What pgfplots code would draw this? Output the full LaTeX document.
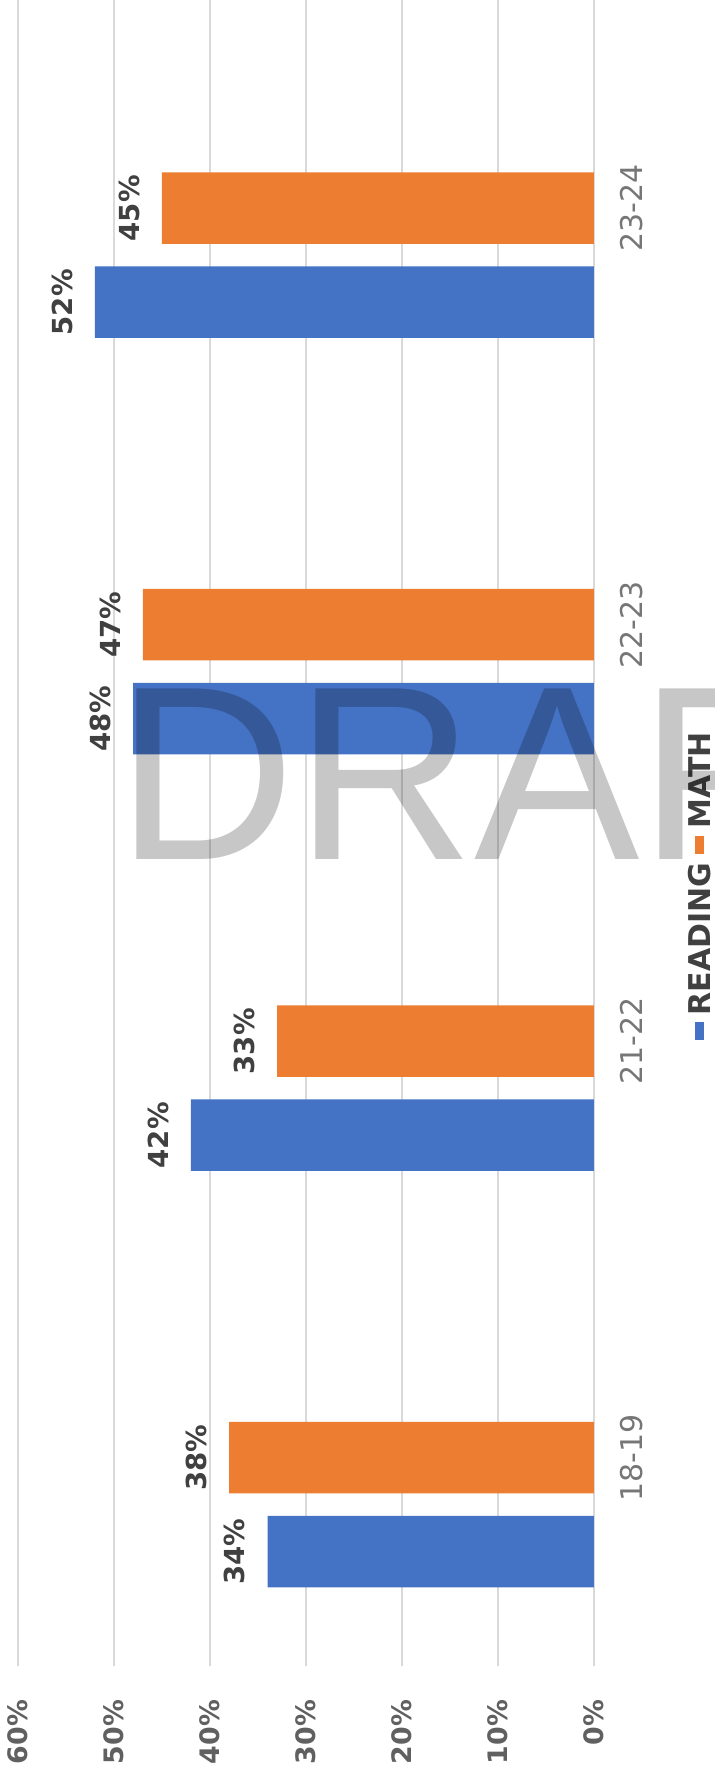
\documentclass[border=0pt]{standalone}
\usepackage{fontspec}
\setmainfont{DejaVu Sans}
\newfontfamily\draftfont{Liberation Sans}
\usepackage{pgfplots}
\pgfplotsset{compat=1.18}
\definecolor{reading}{RGB}{68,114,196}
\definecolor{math}{RGB}{237,125,49}
\definecolor{gridgray}{RGB}{217,217,217}
\definecolor{ticktext}{RGB}{96,96,96}
\definecolor{labeltext}{RGB}{64,64,64}
\definecolor{cattext}{RGB}{118,118,118}

\begin{document}
\begin{tikzpicture}
\begin{axis}[
  at={(0pt,0pt)}, anchor=south west,
  scale only axis, width=288pt, height=833pt,
  xbar, bar width=35.75pt,
  x dir=reverse,
  xmin=0, xmax=60, ymin=-0.5, ymax=3.5,
  enlargelimits=false,
  xtick={0,10,...,60},
  xticklabel={\pgfmathprintnumber{\tick}\%},
  /pgf/number format/assume math mode=true,
  xticklabel style={rotate=90, anchor=east, font=\fontsize{13.4}{16}\selectfont\bfseries, text=ticktext},
  xticklabel shift=13.5pt,
  ytick={0,1,2,3},
  yticklabels={18-19,21-22,22-23,23-24},
  yticklabel pos=right,
  yticklabel style={rotate=90, anchor=north, font=\fontsize{15}{18}\selectfont, text=cattext},
  yticklabel shift=9.5pt,
  xmajorgrids, grid style={gridgray, line width=0.8pt},
  axis line style={draw=none},
  major tick length=0pt,
  point meta=x,
  nodes near coords={\pgfmathprintnumber{\pgfplotspointmeta}\%},
  every node near coord/.append style={rotate=90, anchor=south, inner ysep=11pt,
    font=\fontsize{13.8}{16}\selectfont\bfseries, text=labeltext},
  legend columns=1,
  reverse legend,
  legend image code/.code={},
  legend style={at={(1.1858,0.468)}, anchor=center, draw=none, fill=none,
    font=\fontsize{15}{18}\selectfont\bfseries, text=labeltext,
    row sep=4.5pt, column sep=0pt,
    nodes={rotate=90, anchor=center, inner sep=0pt}},
]
% reading
\addplot[fill=reading, draw=none, bar shift=-47pt] coordinates {(34,0) (42,1) (48,2) (52,3)};
% math
\addplot[fill=math, draw=none, bar shift=0pt] coordinates {(38,0) (33,1) (47,2) (45,3)};
\legend{{\textcolor{reading}{\rule[3.2pt]{9pt}{4.5pt}}\hspace{3.5pt}READING},
        {\textcolor{math}{\rule[3.2pt]{9pt}{4.5pt}}\hspace{3.5pt}MATH}}
\end{axis}
% watermark
\node[font=\draftfont\fontsize{124}{124}\selectfont, text=black, text opacity=0.22,
  anchor=base west, inner sep=0pt] at (49pt,403pt) {DRAFT};
\pgfresetboundingbox
\path[use as bounding box] (-9pt,-57.5pt) rectangle (348pt,833pt);
\end{tikzpicture}
\end{document}
